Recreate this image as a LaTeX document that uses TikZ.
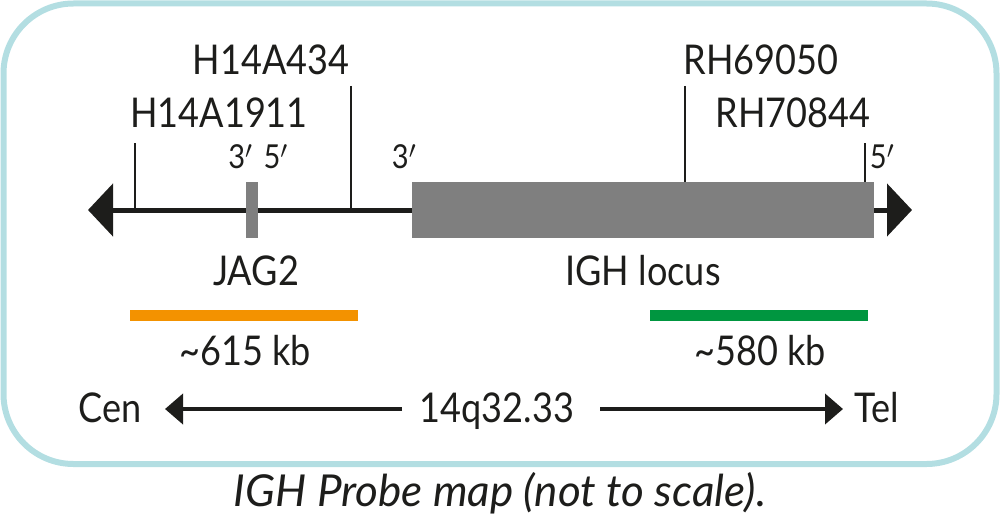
\documentclass[tikz,border=0pt]{standalone}
\usepackage{fontspec}
\setmainfont{Lato}
\newfontfamily\narrowfont{Lato}[FakeStretch=0.88]
\usetikzlibrary{arrows.meta}
\definecolor{frameblue}{HTML}{B3DEE2}
\definecolor{boxgray}{HTML}{7F7F7F}
\definecolor{probeorange}{HTML}{F39200}
\definecolor{probegreen}{HTML}{009640}
\definecolor{ink}{HTML}{1D1D1B}
\tikzset{
  lbl/.style={anchor=base, inner sep=0pt, font=\narrowfont\fontsize{41}{44}\selectfont, text=ink},
  small/.style={anchor=base, inner sep=0pt, font=\narrowfont\fontsize{33}{36}\selectfont, text=ink},
  captionstyle/.style={anchor=base, inner sep=0pt, font=\fontsize{44}{48}\selectfont\itshape, text=ink},
  tick/.style={draw=ink, line width=2.6pt},
  mainline/.style={draw=ink, line width=5pt, {Triangle[length=25pt,width=52pt]}-{Triangle[length=25pt,width=52pt]}},
  dirarrow/.style={draw=ink, line width=4pt, -{Triangle[length=18pt,width=30pt]}},
  probe/.style={line width=11pt},
}
\begin{document}
\begin{tikzpicture}[x=1pt,y=-1pt]
\useasboundingbox (0,0) rectangle (1000,524);
% frame
\draw[frameblue, line width=6pt, rounded corners=70pt] (3.5,3.5) rectangle (996.5,464);
% main line
\coordinate (L) at (88,210);
\coordinate (R) at (912,210);
\draw[mainline] (L) -- (R);
% IGH locus box
\node[fill=boxgray, minimum width=462pt, minimum height=56pt, inner sep=0pt, anchor=north west] (igh) at (412,182) {};
% JAG2 bar
\node[fill=boxgray, minimum width=12pt, minimum height=56pt, inner sep=0pt, anchor=north west] (jag) at (246,182) {};
% ticks
\coordinate (t1a) at (135,143); \coordinate (t1b) at (135,210);
\coordinate (t2a) at (351,86);  \coordinate (t2b) at (351,210);
\coordinate (t3a) at (685,86);  \coordinate (t3b) at (685,182);
\coordinate (t4a) at (865,143); \coordinate (t4b) at (865,182);
\draw[tick] (t1a) -- (t1b);
\draw[tick] (t2a) -- (t2b);
\draw[tick] (t3a) -- (t3b);
\draw[tick] (t4a) -- (t4b);
% marker labels
\node[lbl] (h434) at (271,75) {H14A434};
\node[lbl] (h1911) at (219,128) {H14A1911};
\node[lbl] (rh69) at (761,75) {RH69050};
\node[lbl] (rh70) at (793,128) {RH70844};
% primes
\node[small] (p35) at (258,168) {3${}'$\,\,5${}'$};
\node[small] (p3) at (404,168) {3${}'$};
\node[small] (p5) at (882,168) {5${}'$};
% gene labels
\node[lbl] (jagl) at (256,285) {JAG2};
\node[lbl] (ighl) at (643,285) {IGH locus};
% probes
\coordinate (o1) at (130,315.5); \coordinate (o2) at (358,315.5);
\coordinate (g1) at (650,315.5); \coordinate (g2) at (868,315.5);
\draw[probe, probeorange] (o1) -- (o2);
\draw[probe, probegreen] (g1) -- (g2);
\node[lbl] (kb615) at (245,365) {\textasciitilde615 kb};
\node[lbl] (kb580) at (760,365) {\textasciitilde580 kb};
% orientation
\node[lbl] (cen) at (110,422) {Cen};
\node[lbl] (tel) at (877,422) {Tel};
\node[lbl] (band) at (497,422) {14q32.33};
\coordinate (a1s) at (402,409); \coordinate (a1e) at (165,409);
\coordinate (a2s) at (600,409); \coordinate (a2e) at (843,409);
\draw[dirarrow] (a1s) -- (a1e);
\draw[dirarrow] (a2s) -- (a2e);
% caption
\node[captionstyle] (cap) at (500,506) {IGH Probe map (not to scale).};
\end{tikzpicture}
\end{document}
